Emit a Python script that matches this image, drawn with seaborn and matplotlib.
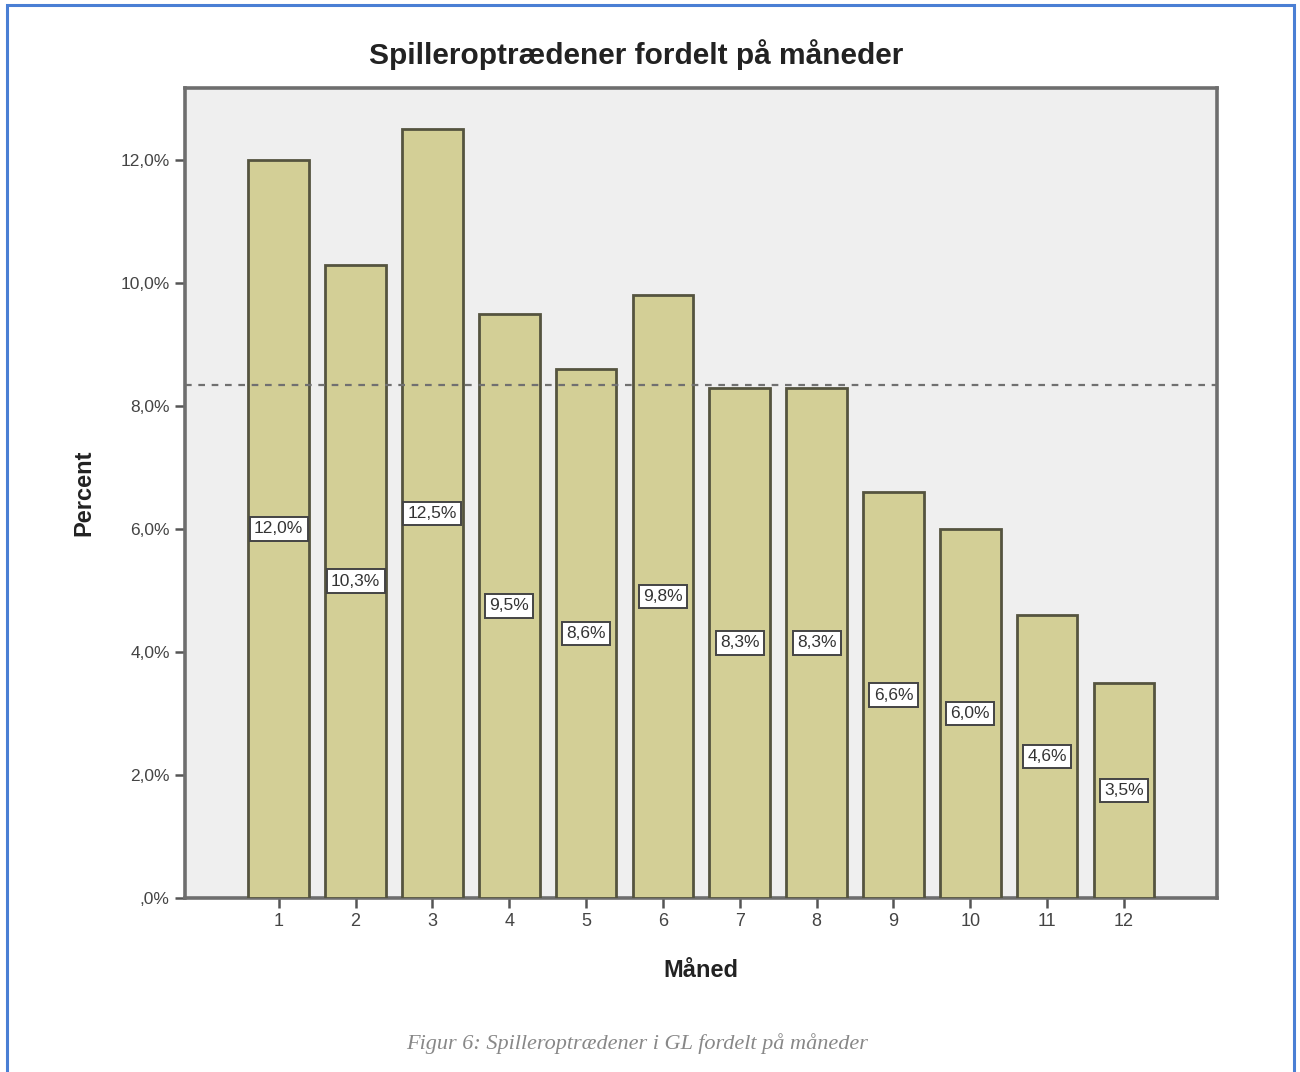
import matplotlib
matplotlib.use("Agg")
import matplotlib.pyplot as plt
import seaborn as sns
import pandas as pd
from matplotlib.patches import Rectangle

# Monthly share of player appearances
months = ["1", "2", "3", "4", "5", "6", "7", "8", "9", "10", "11", "12"]
percent = [12.0, 10.3, 12.5, 9.5, 8.6, 9.8, 8.3, 8.3, 6.6, 6.0, 4.6, 3.5]
reference_level = 100 / 12  # even distribution across months
y_ticks = [0, 2, 4, 6, 8, 10, 12]
y_tick_labels = [",0%", "2,0%", "4,0%", "6,0%", "8,0%", "10,0%", "12,0%"]

df = pd.DataFrame({"Måned": months, "Percent": percent})

sns.set_theme(style="white")
plt.rcParams["font.family"] = ["Liberation Sans", "DejaVu Sans"]

fig = plt.figure(figsize=(13, 10.72), dpi=100)
ax = fig.add_axes([0.1423, 0.1623, 0.7938, 0.7556])
ax.set_facecolor("#efefef")

sns.barplot(data=df, x="Måned", y="Percent", color="#d3cf96", saturation=1,
            width=0.79, edgecolor="#55543f", linewidth=2.0, ax=ax, zorder=3)

ax.axhline(reference_level, color="#707070", linestyle=(0, (3, 3)),
           linewidth=1.6, zorder=4)

for i, v in enumerate(percent):
    ax.text(i, v / 2, f"{v:.1f}%".replace(".", ","), ha="center", va="center",
            fontsize=12.5, color="#333333", zorder=6,
            bbox=dict(boxstyle="square,pad=0.25", facecolor="white",
                      edgecolor="#444444", linewidth=1.4))

ax.set_xlim(-1.22, 12.21)
ax.set_ylim(0, 13.17)
ax.set_yticks(y_ticks)
ax.set_yticklabels(y_tick_labels, fontsize=12.5, color="#444444")
ax.tick_params(axis="x", labelsize=13, labelcolor="#444444")
ax.tick_params(axis="both", direction="out", length=7, width=1.8,
               color="#555555", left=True, bottom=True, pad=4)

for side in ["left", "right", "top", "bottom"]:
    ax.spines[side].set_visible(True)
    ax.spines[side].set_color("#6e6e6e")
    ax.spines[side].set_linewidth(2.6)

ax.set_xlabel("Måned", fontsize=17, fontweight="bold", color="#222222", labelpad=21)
ax.set_ylabel("Percent", fontsize=17, fontweight="bold", color="#222222", labelpad=18)

fig.text(0.489, 0.949, "Spilleroptrædener fordelt på måneder", ha="center",
         va="center", fontsize=21.5, fontweight="bold", color="#222222")

fig.text(0.49, 0.027, "Figur 6: Spilleroptrædener i GL fordelt på måneder",
         ha="center", va="center", fontsize=16, style="italic", color="#888888",
         family=["Liberation Serif", "DejaVu Serif"])

# thin blue frame around the figure
fig.patches.append(Rectangle((0.005, -0.01), 0.99, 1.005, transform=fig.transFigure,
                             fill=False, edgecolor="#4a7fd4", linewidth=2.2))

fig.savefig("out.png", dpi=100, facecolor="white")
